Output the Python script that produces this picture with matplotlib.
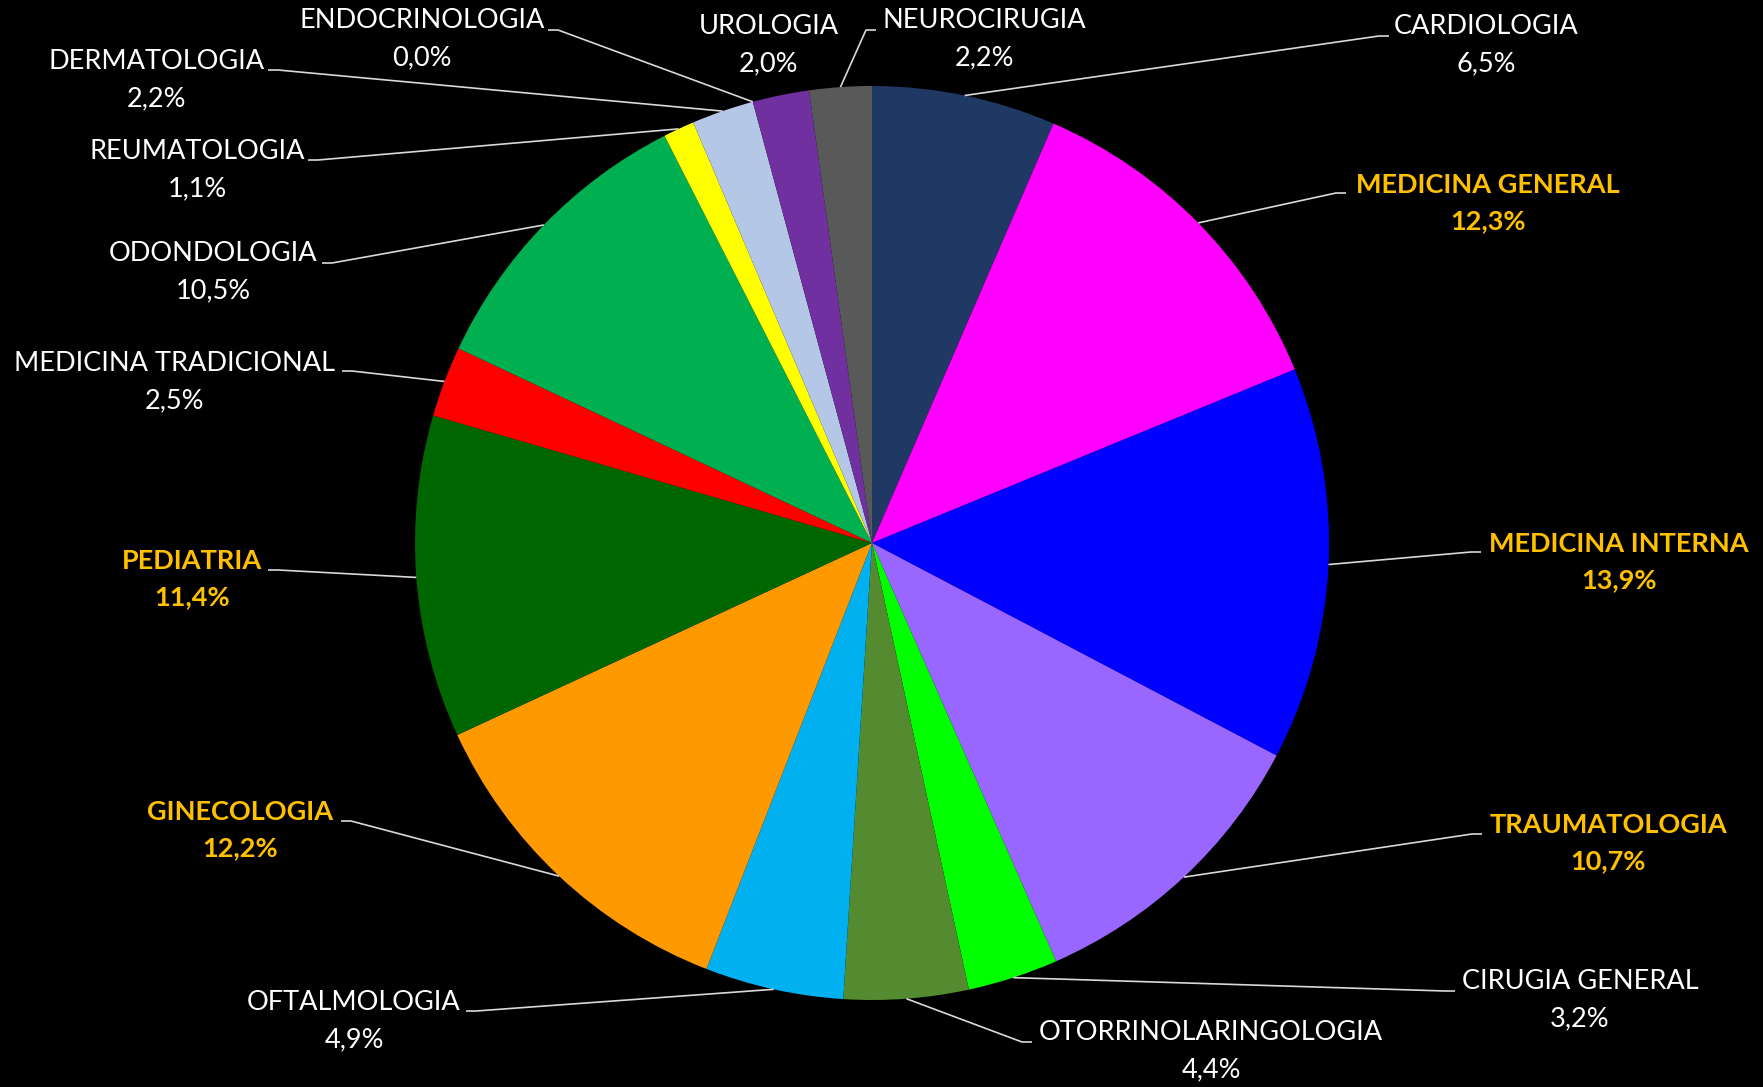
import numpy as np
import matplotlib
matplotlib.use('Agg')
import matplotlib.pyplot as plt

W, H = 1763, 1087

# data, clockwise from 12 o'clock
names = ['CARDIOLOGIA', 'MEDICINA GENERAL', 'MEDICINA INTERNA', 'TRAUMATOLOGIA',
         'CIRUGIA GENERAL', 'OTORRINOLARINGOLOGIA', 'OFTALMOLOGIA', 'GINECOLOGIA',
         'PEDIATRIA', 'MEDICINA TRADICIONAL', 'ODONDOLOGIA', 'REUMATOLOGIA',
         'DERMATOLOGIA', 'ENDOCRINOLOGIA', 'UROLOGIA', 'NEUROCIRUGIA']
shares = [6.5, 12.3, 13.9, 10.7, 3.2, 4.4, 4.9, 12.2,
          11.4, 2.5, 10.5, 1.1, 2.2, 0.0, 2.0, 2.2]
highlight = ['MEDICINA GENERAL', 'MEDICINA INTERNA', 'TRAUMATOLOGIA',
             'GINECOLOGIA', 'PEDIATRIA']

colors = ['#1F3864', '#FF00FF', '#0000FF', '#9966FF', '#00FF00', '#548B30',
          '#00B0F0', '#FF9900', '#006600', '#FF0000', '#00B050', '#FFFF00',
          '#B4C7E7', '#FFFFFF', '#7030A0', '#595959']

# label layout in image pixels: text centre, leader anchor next to text, side of text
layout = {
    'CARDIOLOGIA': ((1486, 45), (1389, 36), 1),
    'MEDICINA GENERAL': ((1488, 203), (1346, 193), 1),
    'MEDICINA INTERNA': ((1619, 562), (1481, 552), 1),
    'TRAUMATOLOGIA': ((1608, 843), (1482, 834), 1),
    'CIRUGIA GENERAL': ((1580, 1000), (1455, 991), 1),
    'OTORRINOLARINGOLOGIA': ((1211, 1051), (1032, 1042), 1),
    'OFTALMOLOGIA': ((354, 1021), (466, 1011), -1),
    'GINECOLOGIA': ((240, 830), (341, 821), -1),
    'PEDIATRIA': ((192, 579), (268, 570), -1),
    'MEDICINA TRADICIONAL': ((175, 382), (342, 371), -1),
    'ODONDOLOGIA': ((213, 272), (322, 263), -1),
    'REUMATOLOGIA': ((197, 170), (308, 160), -1),
    'DERMATOLOGIA': ((157, 80), (268, 70), -1),
    'ENDOCRINOLOGIA': ((422, 39), (548, 30), -1),
    'UROLOGIA': ((769, 45), None, 0),
    'NEUROCIRUGIA': ((984, 39), (876, 30), 1),
}

cx, cy, R = 872, 543, 457

plt.rcParams['font.family'] = ['Lato', 'DejaVu Sans']
fig = plt.figure(figsize=(W / 100, H / 100), dpi=100)
fig.patch.set_facecolor('black')
ax = fig.add_axes([0, 0, 1, 1])
ax.set_facecolor('black')

wedges, _ = ax.pie(shares, colors=colors, startangle=90, counterclock=False,
                   center=(cx, H - cy), radius=R,
                   wedgeprops=dict(linewidth=0))
ax.set_xlim(0, W)
ax.set_ylim(0, H)
ax.set_aspect('equal')
ax.axis('off')

for w, name, val in zip(wedges, names, shares):
    (tx, ty), anchor, side = layout[name]
    mid = np.deg2rad((w.theta1 + w.theta2) / 2)
    ex = w.center[0] + w.r * np.cos(mid)
    ey = w.center[1] + w.r * np.sin(mid)
    if anchor is not None:
        ax_, ay_ = anchor
        ay_ = H - ay_
        kx = ax_ - side * 10
        ax.plot([ex, kx, ax_], [ey, ay_, ay_], color='#D9D9D9', lw=1.2,
                solid_capstyle='butt')
    hot = name in highlight
    label = f"{name}\n{val:.1f}%".replace('.', ',')
    ax.text(tx, H - ty, label, ha='center', va='center', multialignment='center',
            fontsize=19.5, linespacing=1.62,
            color='#FFC000' if hot else 'white',
            fontweight='bold' if hot else 'normal')

fig.savefig('out.png', dpi=100, facecolor='black')
